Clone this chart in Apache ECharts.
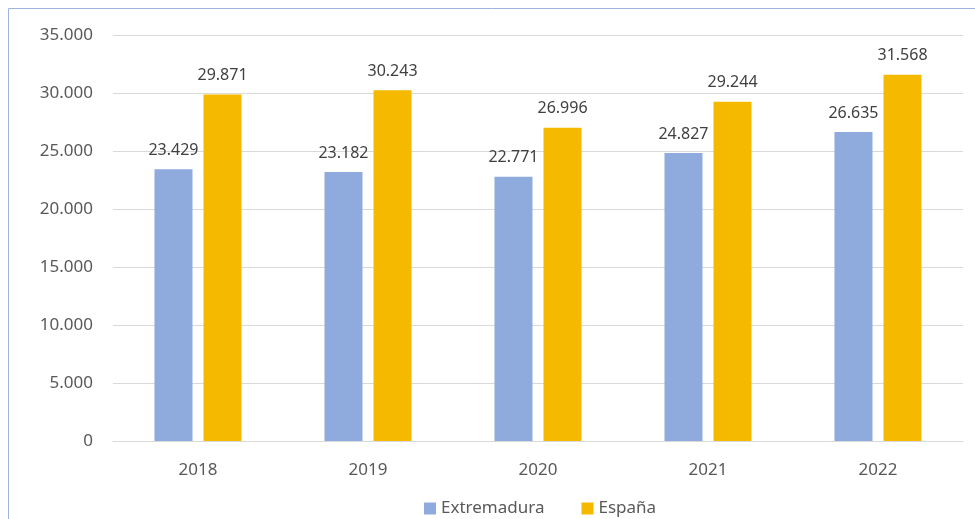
<!DOCTYPE html>
<html>
<head>
<meta charset="utf-8">
<script src="https://cdn.jsdelivr.net/npm/echarts@6/dist/echarts.min.js"></script>
<style>
    html,body{margin:0;padding:0;background:#fff;}
    #main{width:975px;height:519px;}
</style>
</head>
<body>
<div id="main"></div>
<script>
//--------------------数据---------------------------
var years = ['2018', '2019', '2020', '2021', '2022'];
var extremadura = [23429, 23182, 22771, 24827, 26635];
var espana = [29871, 30243, 26996, 29244, 31568];
var yTicks = [0, 5000, 10000, 15000, 20000, 25000, 30000, 35000];
//--------------------数据---------------------------

function fmt(v){
    return String(v).replace(/\B(?=(\d{3})+(?!\d))/g, '.');
}

var myChart = echarts.init(document.getElementById('main'));
var font = 'Noto Sans';
var option = {
    animation: false,
    textStyle: {fontFamily: font},
    graphic: [
        {
            type: 'polyline',
            shape: {points: [[8.5, 519], [8.5, 8.5], [975, 8.5]]},
            style: {stroke: '#9db4de', lineWidth: 1, fill: null}
        }
    ],
    grid: {left: 113, right: 12, top: 35, bottom: 78},
    legend: {
        left: 419,
        top: 495,
        itemWidth: 12,
        itemHeight: 12,
        itemGap: 37,
        icon: 'rect',
        textStyle: {fontSize: 17, color: '#595959', fontFamily: font, padding: [0, 0, 0, 0]},
        data: ['Extremadura', 'España']
    },
    xAxis: {
        type: 'category',
        data: years,
        axisLine: {lineStyle: {color: '#d9d9d9', width: 1}},
        axisTick: {show: false},
        axisLabel: {fontSize: 17, color: '#595959', margin: 21}
    },
    yAxis: {
        type: 'value',
        min: yTicks[0],
        max: yTicks[yTicks.length - 1],
        interval: 5000,
        axisLine: {show: false},
        axisTick: {show: false},
        splitLine: {lineStyle: {color: '#d9d9d9'}},
        axisLabel: {fontSize: 17, color: '#595959', margin: 20, formatter: fmt}
    },
    series: [
        {
            name: 'Extremadura',
            type: 'bar',
            data: extremadura,
            barWidth: 38,
            barGap: '29%',
            itemStyle: {color: '#8faadc'},
            label: {show: true, position: 'top', distance: 11, fontSize: 16, color: '#404040', formatter: function(p){return fmt(p.value);}}
        },
        {
            name: 'España',
            type: 'bar',
            data: espana,
            barWidth: 38,
            itemStyle: {color: '#f5ba00'},
            label: {show: true, position: 'top', distance: 11, fontSize: 16, color: '#404040', formatter: function(p){return fmt(p.value);}}
        }
    ]
};
myChart.setOption(option);
</script>
</body>
</html>
